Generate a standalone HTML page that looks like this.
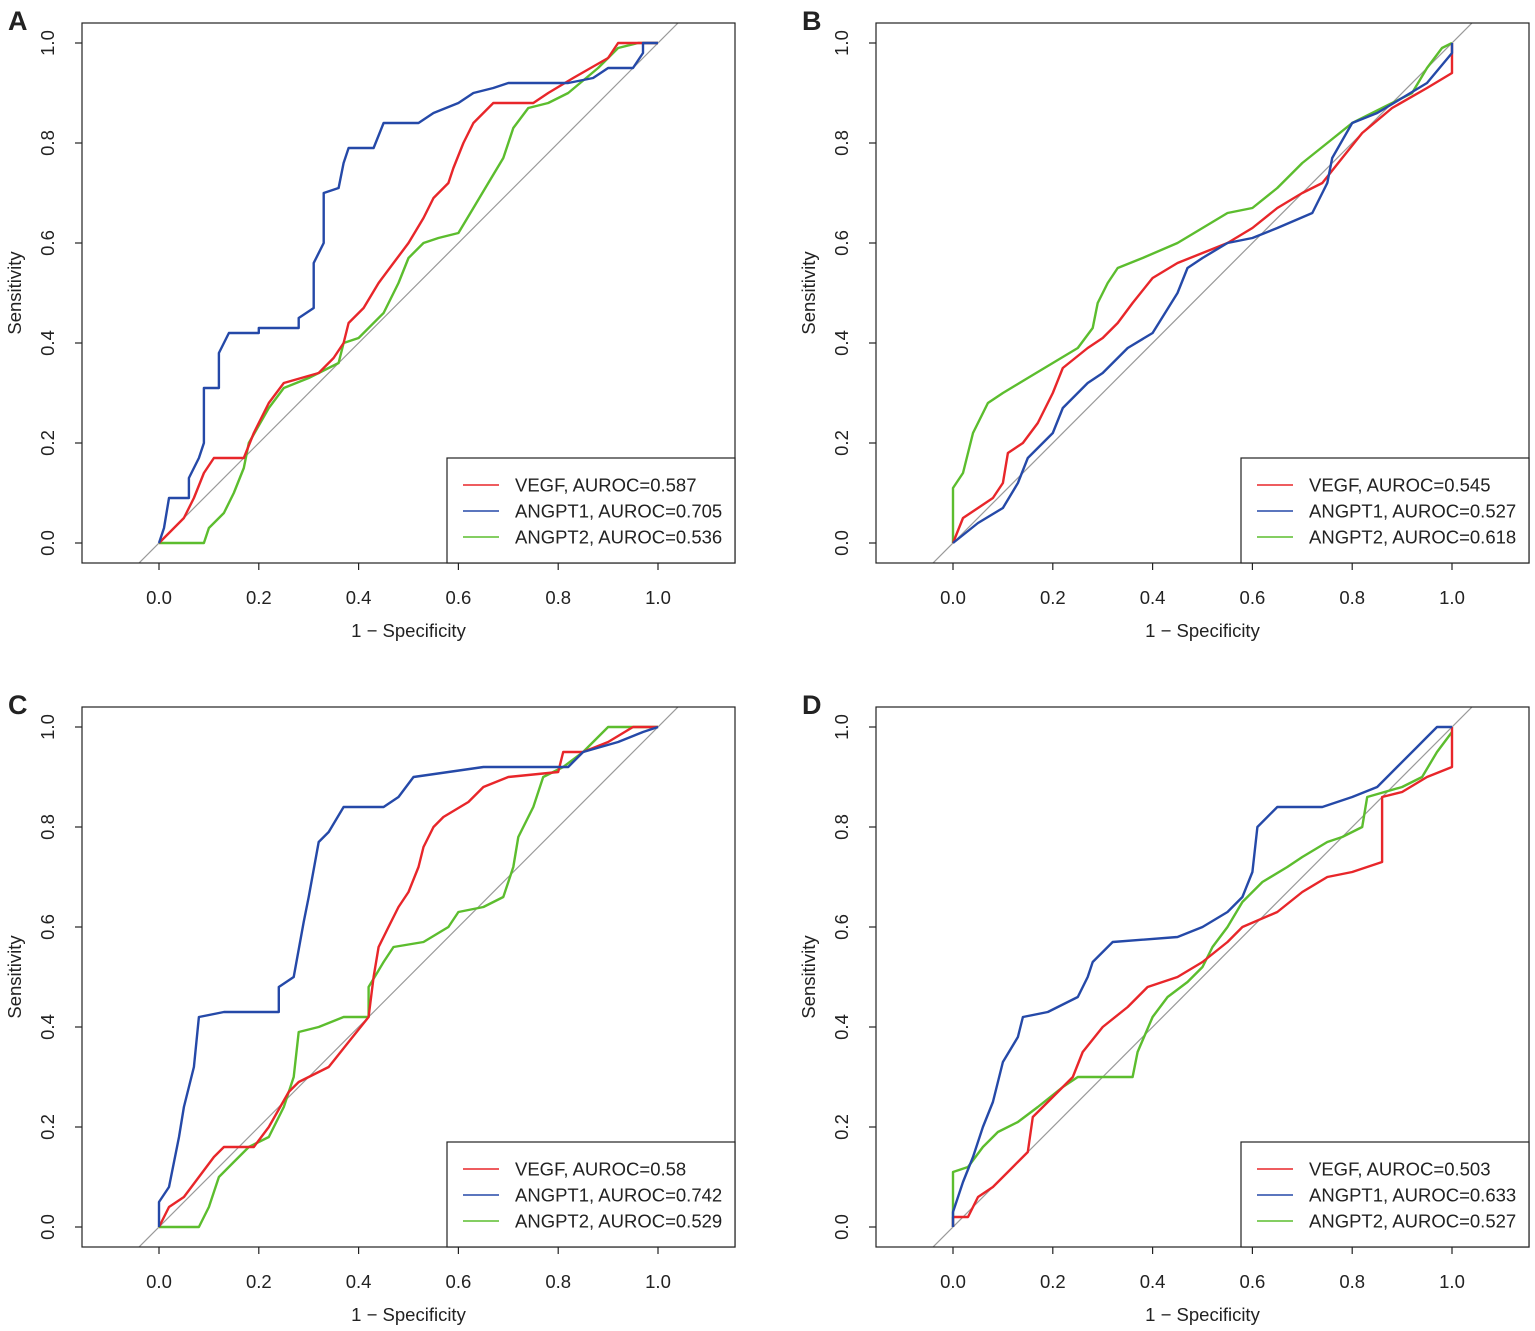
<!DOCTYPE html>
<html><head><meta charset="utf-8"><style>
html,body{margin:0;padding:0;background:#fff}
svg{display:block}
text{font-family:"Liberation Sans",Arial,sans-serif;fill:#222}
</style></head><body>
<svg id="s" width="1535" height="1331" xmlns="http://www.w3.org/2000/svg"></svg>
<script>
const panels=[
{L:'A',x0:159,y0:543,box:[82,23,735,563],auc:['0.587','0.705','0.536'],
r:[[0,0],[0.02,0.02],[0.05,0.05],[0.07,0.09],[0.09,0.14],[0.11,0.17],[0.17,0.17],[0.19,0.22],[0.22,0.28],[0.25,0.32],[0.32,0.34],[0.35,0.37],[0.37,0.40],[0.38,0.44],[0.41,0.47],[0.44,0.52],[0.47,0.56],[0.5,0.6],[0.53,0.65],[0.55,0.69],[0.58,0.72],[0.59,0.75],[0.61,0.8],[0.63,0.84],[0.67,0.88],[0.75,0.88],[0.78,0.9],[0.83,0.93],[0.9,0.97],[0.92,1],[1,1]],
b:[[0,0],[0.01,0.03],[0.02,0.09],[0.06,0.09],[0.06,0.13],[0.08,0.17],[0.09,0.2],[0.09,0.31],[0.12,0.31],[0.12,0.38],[0.14,0.42],[0.2,0.42],[0.2,0.43],[0.28,0.43],[0.28,0.45],[0.31,0.47],[0.31,0.56],[0.33,0.6],[0.33,0.7],[0.36,0.71],[0.37,0.76],[0.38,0.79],[0.43,0.79],[0.45,0.84],[0.52,0.84],[0.55,0.86],[0.6,0.88],[0.63,0.9],[0.67,0.91],[0.7,0.92],[0.82,0.92],[0.87,0.93],[0.9,0.95],[0.95,0.95],[0.97,0.98],[0.97,1],[1,1]],
g:[[0,0],[0.09,0],[0.1,0.03],[0.13,0.06],[0.15,0.1],[0.17,0.15],[0.18,0.2],[0.22,0.27],[0.25,0.31],[0.3,0.33],[0.36,0.36],[0.37,0.4],[0.4,0.41],[0.45,0.46],[0.48,0.52],[0.5,0.57],[0.53,0.6],[0.56,0.61],[0.6,0.62],[0.63,0.67],[0.66,0.72],[0.69,0.77],[0.71,0.83],[0.74,0.87],[0.78,0.88],[0.82,0.9],[0.88,0.95],[0.92,0.99],[0.96,1],[1,1]]},
{L:'B',x0:953,y0:543,box:[876,23,1529,563],auc:['0.545','0.527','0.618'],
r:[[0,0],[0.02,0.05],[0.05,0.07],[0.08,0.09],[0.1,0.12],[0.11,0.18],[0.14,0.2],[0.17,0.24],[0.2,0.3],[0.22,0.35],[0.27,0.39],[0.3,0.41],[0.33,0.44],[0.36,0.48],[0.4,0.53],[0.45,0.56],[0.5,0.58],[0.55,0.6],[0.6,0.63],[0.65,0.67],[0.7,0.7],[0.74,0.72],[0.78,0.77],[0.82,0.82],[0.88,0.87],[0.95,0.91],[1,0.94],[1,1]],
b:[[0,0],[0.05,0.04],[0.1,0.07],[0.13,0.12],[0.15,0.17],[0.2,0.22],[0.22,0.27],[0.27,0.32],[0.3,0.34],[0.35,0.39],[0.4,0.42],[0.45,0.5],[0.47,0.55],[0.5,0.57],[0.55,0.6],[0.6,0.61],[0.65,0.63],[0.72,0.66],[0.75,0.72],[0.76,0.77],[0.8,0.84],[0.85,0.86],[0.9,0.89],[0.95,0.92],[1,0.98],[1,1]],
g:[[0,0],[0,0.11],[0.02,0.14],[0.04,0.22],[0.07,0.28],[0.1,0.3],[0.15,0.33],[0.2,0.36],[0.25,0.39],[0.28,0.43],[0.29,0.48],[0.31,0.52],[0.33,0.55],[0.38,0.57],[0.45,0.6],[0.5,0.63],[0.55,0.66],[0.6,0.67],[0.65,0.71],[0.7,0.76],[0.75,0.8],[0.8,0.84],[0.88,0.88],[0.92,0.9],[0.95,0.95],[0.98,0.99],[1,1]]},
{L:'C',x0:159,y0:1227,box:[82,707,735,1247],auc:['0.58','0.742','0.529'],
r:[[0,0],[0.02,0.04],[0.05,0.06],[0.08,0.1],[0.11,0.14],[0.13,0.16],[0.19,0.16],[0.22,0.2],[0.26,0.27],[0.28,0.29],[0.34,0.32],[0.38,0.37],[0.42,0.42],[0.43,0.5],[0.44,0.56],[0.46,0.6],[0.48,0.64],[0.5,0.67],[0.52,0.72],[0.53,0.76],[0.55,0.8],[0.57,0.82],[0.62,0.85],[0.65,0.88],[0.7,0.9],[0.8,0.91],[0.81,0.95],[0.85,0.95],[0.9,0.97],[0.95,1],[1,1]],
b:[[0,0],[0,0.05],[0.02,0.08],[0.04,0.18],[0.05,0.24],[0.07,0.32],[0.08,0.42],[0.13,0.43],[0.24,0.43],[0.24,0.48],[0.27,0.5],[0.29,0.61],[0.3,0.66],[0.32,0.77],[0.34,0.79],[0.37,0.84],[0.45,0.84],[0.48,0.86],[0.51,0.9],[0.65,0.92],[0.82,0.92],[0.85,0.95],[0.92,0.97],[0.97,0.99],[1,1]],
g:[[0,0],[0.08,0],[0.1,0.04],[0.12,0.1],[0.15,0.13],[0.18,0.16],[0.22,0.18],[0.25,0.24],[0.27,0.3],[0.28,0.39],[0.32,0.4],[0.37,0.42],[0.42,0.42],[0.42,0.48],[0.45,0.53],[0.47,0.56],[0.53,0.57],[0.58,0.6],[0.6,0.63],[0.65,0.64],[0.69,0.66],[0.71,0.72],[0.72,0.78],[0.75,0.84],[0.77,0.9],[0.81,0.92],[0.85,0.95],[0.88,0.98],[0.9,1],[1,1]]},
{L:'D',x0:953,y0:1227,box:[876,707,1529,1247],auc:['0.503','0.633','0.527'],
r:[[0,0],[0,0.02],[0.03,0.02],[0.05,0.06],[0.08,0.08],[0.11,0.11],[0.15,0.15],[0.16,0.22],[0.2,0.26],[0.24,0.3],[0.26,0.35],[0.3,0.4],[0.35,0.44],[0.39,0.48],[0.45,0.5],[0.5,0.53],[0.55,0.57],[0.58,0.6],[0.65,0.63],[0.7,0.67],[0.75,0.7],[0.8,0.71],[0.86,0.73],[0.86,0.86],[0.9,0.87],[0.95,0.9],[1,0.92],[1,1]],
b:[[0,0],[0,0.03],[0.02,0.09],[0.04,0.14],[0.06,0.2],[0.08,0.25],[0.1,0.33],[0.13,0.38],[0.14,0.42],[0.19,0.43],[0.25,0.46],[0.27,0.5],[0.28,0.53],[0.32,0.57],[0.45,0.58],[0.5,0.6],[0.55,0.63],[0.58,0.66],[0.6,0.71],[0.61,0.8],[0.65,0.84],[0.74,0.84],[0.8,0.86],[0.85,0.88],[0.89,0.92],[0.93,0.96],[0.95,0.98],[0.97,1],[1,1]],
g:[[0,0],[0,0.11],[0.03,0.12],[0.06,0.16],[0.09,0.19],[0.13,0.21],[0.17,0.24],[0.22,0.28],[0.25,0.3],[0.36,0.3],[0.37,0.35],[0.4,0.42],[0.43,0.46],[0.47,0.49],[0.5,0.52],[0.52,0.56],[0.55,0.6],[0.58,0.65],[0.62,0.69],[0.67,0.72],[0.7,0.74],[0.75,0.77],[0.78,0.78],[0.82,0.8],[0.83,0.86],[0.9,0.88],[0.94,0.9],[0.97,0.95],[1,0.99]]}
];
const C={r:'#e8262a',b:'#2549a8',g:'#5cbd2e'};
let h='';
for(const p of panels){
 const [bx0,by0,bx1,by1]=p.box;const X=v=>p.x0+v*499,Y=v=>p.y0-v*500;
 const id='c'+p.L;
 h+=`<clipPath id="${id}"><rect x="${bx0}" y="${by0}" width="${bx1-bx0}" height="${by1-by0}"/></clipPath>`;
 h+=`<line x1="${X(-0.2)}" y1="${Y(-0.2)}" x2="${X(1.2)}" y2="${Y(1.2)}" stroke="#999" stroke-width="1.2" clip-path="url(#${id})"/>`;
 for(const k of ['g','r','b']){
  h+=`<polyline fill="none" stroke="${C[k]}" stroke-width="2.4" stroke-linejoin="round" points="${p[k].map(q=>X(q[0]).toFixed(1)+','+Y(q[1]).toFixed(1)).join(' ')}"/>`;
 }
 h+=`<rect x="${bx0}" y="${by0}" width="${bx1-bx0}" height="${by1-by0}" fill="none" stroke="#222" stroke-width="1.2"/>`;
 for(let i=0;i<=5;i++){const v=i/5;
  h+=`<line x1="${X(v)}" y1="${by1}" x2="${X(v)}" y2="${by1+7}" stroke="#222" stroke-width="1.2"/>`;
  h+=`<text x="${X(v)}" y="${by1+41}" font-size="18.5" text-anchor="middle">${v.toFixed(1)}</text>`;
  h+=`<line x1="${bx0}" y1="${Y(v)}" x2="${bx0-7}" y2="${Y(v)}" stroke="#222" stroke-width="1.2"/>`;
  h+=`<text transform="translate(${bx0-28},${Y(v)}) rotate(-90)" font-size="18.5" text-anchor="middle">${v.toFixed(1)}</text>`;
 }
 h+=`<text x="${X(0.5)}" y="${by1+74}" font-size="18.5" text-anchor="middle">1 − Specificity</text>`;
 h+=`<text transform="translate(${bx0-61},${Y(0.5)}) rotate(-90)" font-size="18.5" text-anchor="middle">Sensitivity</text>`;
 h+=`<text x="${bx0-74}" y="${by0+7}" font-size="27" font-weight="bold">${p.L}</text>`;
 const lx=bx1-288,ly=by1-105;
 h+=`<rect x="${lx}" y="${ly}" width="288" height="105" fill="#fff" stroke="#222" stroke-width="1.2"/>`;
 const names=['VEGF','ANGPT1','ANGPT2'],ks=['r','b','g'];
 for(let i=0;i<3;i++){const yy=ly+27+i*26;
  h+=`<line x1="${lx+16}" y1="${yy}" x2="${lx+52}" y2="${yy}" stroke="${C[ks[i]]}" stroke-width="1.6"/>`;
  h+=`<text x="${lx+68}" y="${yy+6.5}" font-size="18.5">${names[i]}, AUROC=${p.auc[i]}</text>`;
 }
}
document.getElementById('s').innerHTML=h;
</script>
</body></html>
